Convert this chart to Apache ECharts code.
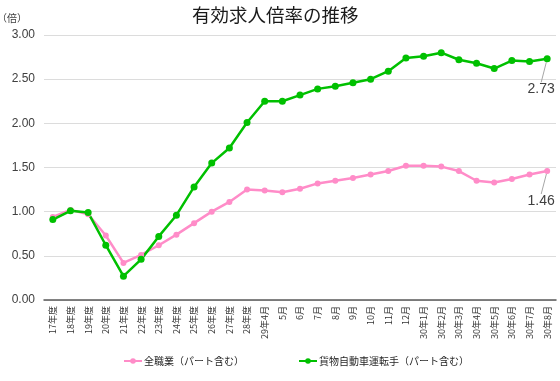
<!DOCTYPE html>
<html>
<head>
<meta charset="utf-8">
<script src="https://cdn.jsdelivr.net/npm/echarts@6/dist/echarts.min.js"></script>
<style>
html,body{margin:0;padding:0;background:#fff;}
#c{width:560px;height:381px;}
</style>
</head>
<body>
<div id="c"></div>
<script>
var categories = ['17年度','18年度','19年度','20年度','21年度','22年度','23年度','24年度','25年度','26年度','27年度','28年度',
  '29年4月','5月','6月','7月','8月','9月','10月','11月','12月',
  '30年1月','30年2月','30年3月','30年4月','30年5月','30年6月','30年7月','30年8月'];
var allJobs = [0.94,1.02,0.97,0.73,0.42,0.51,0.62,0.74,0.87,1.00,1.11,1.25,
  1.24,1.22,1.26,1.32,1.35,1.38,1.42,1.46,1.52,
  1.52,1.51,1.46,1.35,1.33,1.37,1.42,1.46];
var truckDrivers = [0.91,1.01,0.99,0.62,0.27,0.46,0.72,0.96,1.28,1.55,1.72,2.01,
  2.25,2.25,2.32,2.39,2.42,2.46,2.50,2.59,2.74,
  2.76,2.80,2.72,2.68,2.62,2.71,2.70,2.73];
var seriesNames = ['全職業（パート含む）','貨物自動車運転手（パート含む）'];
var yTicks = {min:0, max:3, interval:0.5};

function withLastLabel(arr){
  return arr.map(function(v,i){
    if(i===arr.length-1){
      return {value:v, label:{show:true}, labelLine:{show:true}};
    }
    return v;
  });
}

var chart = echarts.init(document.getElementById('c'), null, {renderer:'canvas'});
var labelCommon = {
  position:'bottom', distance:14, color:'#404040', fontSize:14,
  fontFamily:'Liberation Sans, Arial, sans-serif',
  formatter:function(p){return p.value.toFixed(2);}
};
var legendCommon = {top:351, itemWidth:18, itemHeight:7,
  textStyle:{fontSize:10, color:'#262626', fontFamily:'Noto Sans CJK JP', padding:[0,0,0,-3]}};
chart.setOption({
  animation:false,
  title:{text:'有効求人倍率の推移', left:187, top:1,
    textStyle:{fontSize:18.5, fontWeight:'normal', color:'#1a1a1a', fontFamily:'Noto Sans CJK JP'}},
  legend:[
    Object.assign({left:118, data:[seriesNames[0]]}, legendCommon),
    Object.assign({left:293, data:[seriesNames[1]]}, legendCommon)
  ],
  grid:{left:44, right:4, top:35, bottom:81, containLabel:false, outerBoundsMode:'none'},
  xAxis:{type:'category', data:categories, boundaryGap:true,
    axisLine:{lineStyle:{color:'#595959', width:1.5}},
    axisTick:{show:false},
    axisLabel:{rotate:90, fontSize:9, color:'#333333', margin:6, interval:0,
      fontFamily:'Noto Sans CJK JP'}},
  yAxis:{type:'value', min:yTicks.min, max:yTicks.max, interval:yTicks.interval,
    name:'（倍）', nameLocation:'end', nameGap:12,
    nameTextStyle:{align:'left', padding:[0,0,0,-47], fontSize:10, color:'#404040', fontFamily:'Noto Sans CJK JP'},
    axisLine:{show:false}, axisTick:{show:false},
    splitLine:{lineStyle:{color:'#dcdcdc', width:1}},
    axisLabel:{fontSize:12, color:'#404040', margin:9, fontFamily:'Liberation Sans, Arial, sans-serif',
      formatter:function(v){return v.toFixed(2);}}},
  series:[
    {name:seriesNames[0], type:'line', data:withLastLabel(allJobs),
      color:'#ff8cc8', symbol:'circle', symbolSize:6,
      lineStyle:{width:2.5, color:'#ff8cc8'}, itemStyle:{color:'#ff8cc8'},
      label:Object.assign({show:false}, labelCommon),
      labelLine:{lineStyle:{color:'#a6a6a6', width:1}},
      labelLayout:{dx:-6, dy:6}},
    {name:seriesNames[1], type:'line', data:withLastLabel(truckDrivers),
      color:'#00c000', symbol:'circle', symbolSize:7,
      lineStyle:{width:2.5, color:'#00c000'}, itemStyle:{color:'#00c000'},
      label:Object.assign({show:false}, labelCommon),
      labelLine:{lineStyle:{color:'#a6a6a6', width:1}},
      labelLayout:{dx:-6, dy:6}}
  ]
});
</script>
</body>
</html>
